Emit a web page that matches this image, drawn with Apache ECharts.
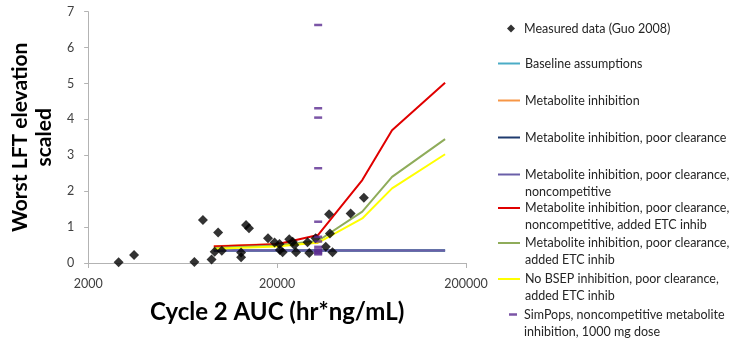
<!DOCTYPE html>
<html>
<head>
<meta charset="utf-8">
<script src="https://cdn.jsdelivr.net/npm/echarts@6/dist/echarts.min.js"></script>
<style>
html,body{margin:0;padding:0;background:#fff;}
#c{width:737px;height:345px;}
</style>
</head>
<body>
<div id="c"></div>
<script>
// ---- data ----
var xTickLabels = ['2000', '20000', '200000'];
var yTicks = [0, 1, 2, 3, 4, 5, 6, 7];

var measured = [
  [2900, 0.02], [3500, 0.22], [7300, 0.03], [8100, 1.2], [9000, 0.1], [9350, 0.31],
  [9750, 0.85], [10200, 0.34], [12900, 0.29], [12900, 0.16], [13700, 1.06], [14200, 0.97],
  [17900, 0.69], [19400, 0.57], [20600, 0.53], [20700, 0.36], [21400, 0.30], [23200, 0.66],
  [24200, 0.59], [24700, 0.50], [25200, 0.30], [29000, 0.58], [29600, 0.28], [32000, 0.69],
  [36200, 0.45], [37700, 1.36], [38100, 0.82], [39300, 0.30], [49000, 1.38], [57600, 1.82]
];

var simX = [9250, 20000, 33000, 56500, 81200, 155000];
var baseline = [0.35, 0.35, 0.35, 0.35, 0.35, 0.35];
var metInh = [0.47, 0.53, 0.56];
var metInhPoor = [0.35, 0.35, 0.35, 0.35, 0.35, 0.35];
var metInhPoorNoncomp = [0.35, 0.35, 0.35, 0.35, 0.35, 0.35];
var metInhPoorNoncompEtc = [0.46, 0.52, 0.78, 2.31, 3.70, 5.02];
var metInhPoorEtc = [0.42, 0.49, 0.62, 1.43, 2.40, 3.45];
var noBsepPoorEtc = [0.40, 0.46, 0.57, 1.24, 2.08, 3.03];

var simPopsX = 33000;
var simPopsY = [6.63, 4.31, 4.05, 2.64, 1.15, 0.73, 0.6, 0.45, 0.38, 0.33, 0.3, 0.27, 0.24];

var names = [
  'Measured data (Guo 2008)',
  'Baseline assumptions',
  'Metabolite inhibition',
  'Metabolite inhibition, poor clearance',
  'Metabolite inhibition, poor clearance,\nnoncompetitive',
  'Metabolite inhibition, poor clearance,\nnoncompetitive, added ETC inhib',
  'Metabolite inhibition, poor clearance,\nadded ETC inhib',
  'No BSEP inhibition, poor clearance,\nadded ETC inhib',
  'SimPops, noncompetitive metabolite\ninhibition, 1000 mg dose'
];
var colors = ['#000000', '#4bacc6', '#f79646', '#1f3b6e', '#6a5fa8', '#e00000', '#8fac5a', '#ffff00', '#5a2a90'];

function pairs(xs, ys) {
  var out = [];
  for (var i = 0; i < ys.length; i++) out.push([xs[i], ys[i]]);
  return out;
}

var FONT = 'Lato';
var lineSets = [baseline, metInh, metInhPoor, metInhPoorNoncomp, metInhPoorNoncompEtc, metInhPoorEtc, noBsepPoorEtc];
var series = [];
series.push({
  name: names[0], type: 'scatter', xAxisIndex: 0, yAxisIndex: 0,
  symbol: 'diamond', symbolSize: 10, itemStyle: {color: colors[0]},
  data: measured, z: 5
});
for (var k = 0; k < lineSets.length; k++) {
  series.push({
    name: names[k + 1], type: 'line', xAxisIndex: 0, yAxisIndex: 0,
    showSymbol: false, symbol: 'none',
    lineStyle: {color: colors[k + 1], width: 2},
    itemStyle: {color: colors[k + 1]},
    data: pairs(simX, lineSets[k]), z: 2 + k * 0.01
  });
}
series.push({
  name: names[8], type: 'scatter', xAxisIndex: 0, yAxisIndex: 0,
  symbol: 'rect', symbolSize: [8, 2.5], itemStyle: {color: colors[8]},
  data: simPopsY.map(function (v) { return [simPopsX, v]; }), z: 6
});

// legend layout: one legend per entry
var legendTops = [20, 55, 92, 129, 149, 182.5, 217.5, 253.5, 289];
var legends = [];
for (var i = 0; i < names.length; i++) {
  var twoLine = names[i].indexOf('\n') >= 0;
  var lg = {
    data: [names[i]], orient: 'vertical', top: legendTops[i], padding: 0,
    selectedMode: false,
    textStyle: {fontFamily: FONT, fontSize: 12.5, color: '#262626', lineHeight: 17}
  };
  if (twoLine) {
    lg.formatter = function (n) { return ' \n' + n; };
  }
  if (i === 0) {
    lg.left = 507; lg.icon = 'diamond'; lg.itemWidth = 8; lg.itemHeight = 8;
    lg.textStyle.padding = [0, 0, 0, 4];
  } else if (i === 8) {
    lg.left = 509; lg.icon = 'rect'; lg.itemWidth = 8; lg.itemHeight = 2.5;
    lg.textStyle.padding = [0, 0, 0, 2];
  } else {
    lg.left = 498; lg.icon = 'rect'; lg.itemWidth = 22; lg.itemHeight = 2;
  }
  legends.push(lg);
}

var chart = echarts.init(document.getElementById('c'), null, {renderer: 'canvas'});
chart.setOption({
  animation: false,
  backgroundColor: '#ffffff',
  grid: {left: 86, right: 271, top: 11.7, bottom: 82, containLabel: false},
  legend: legends,
  xAxis: [
    {
      type: 'log', logBase: 10, min: 2000, max: 200000,
      axisLine: {show: false}, axisTick: {show: false}, axisLabel: {show: false},
      splitLine: {show: false}
    },
    {
      type: 'value', min: 0, max: 2, interval: 1, position: 'bottom',
      axisLine: {show: true, onZero: false, lineStyle: {color: '#b3b3b3', width: 1}},
      axisTick: {show: true, length: 5, lineStyle: {color: '#b3b3b3'}},
      axisLabel: {margin: 14, fontFamily: FONT, fontSize: 12.5, color: '#404040',
        formatter: function (v) { return xTickLabels[Math.round(v)]; }},
      splitLine: {show: false},
      name: 'Cycle 2 AUC (hr*ng/mL)', nameLocation: 'middle', nameGap: 37,
      nameTextStyle: {fontFamily: FONT, fontSize: 24, fontWeight: 'bold', color: '#000'}
    }
  ],
  yAxis: {
    type: 'value', min: 0, max: 7, interval: 1,
    axisLine: {show: true, lineStyle: {color: '#b3b3b3', width: 1}},
    axisTick: {show: true, length: 4, lineStyle: {color: '#b3b3b3'}},
    axisLabel: {margin: 14, fontFamily: FONT, fontSize: 12.5, color: '#404040',
      formatter: function (v) { return String(yTicks[Math.round(v)]); }},
    splitLine: {show: false},
    name: 'Worst LFT elevation\nscaled', nameLocation: 'middle', nameGap: 30, nameRotate: 90,
    nameTextStyle: {fontFamily: FONT, fontSize: 21, fontWeight: 'bold', color: '#000', lineHeight: 24}
  },
  series: series
});
</script>
</body>
</html>
